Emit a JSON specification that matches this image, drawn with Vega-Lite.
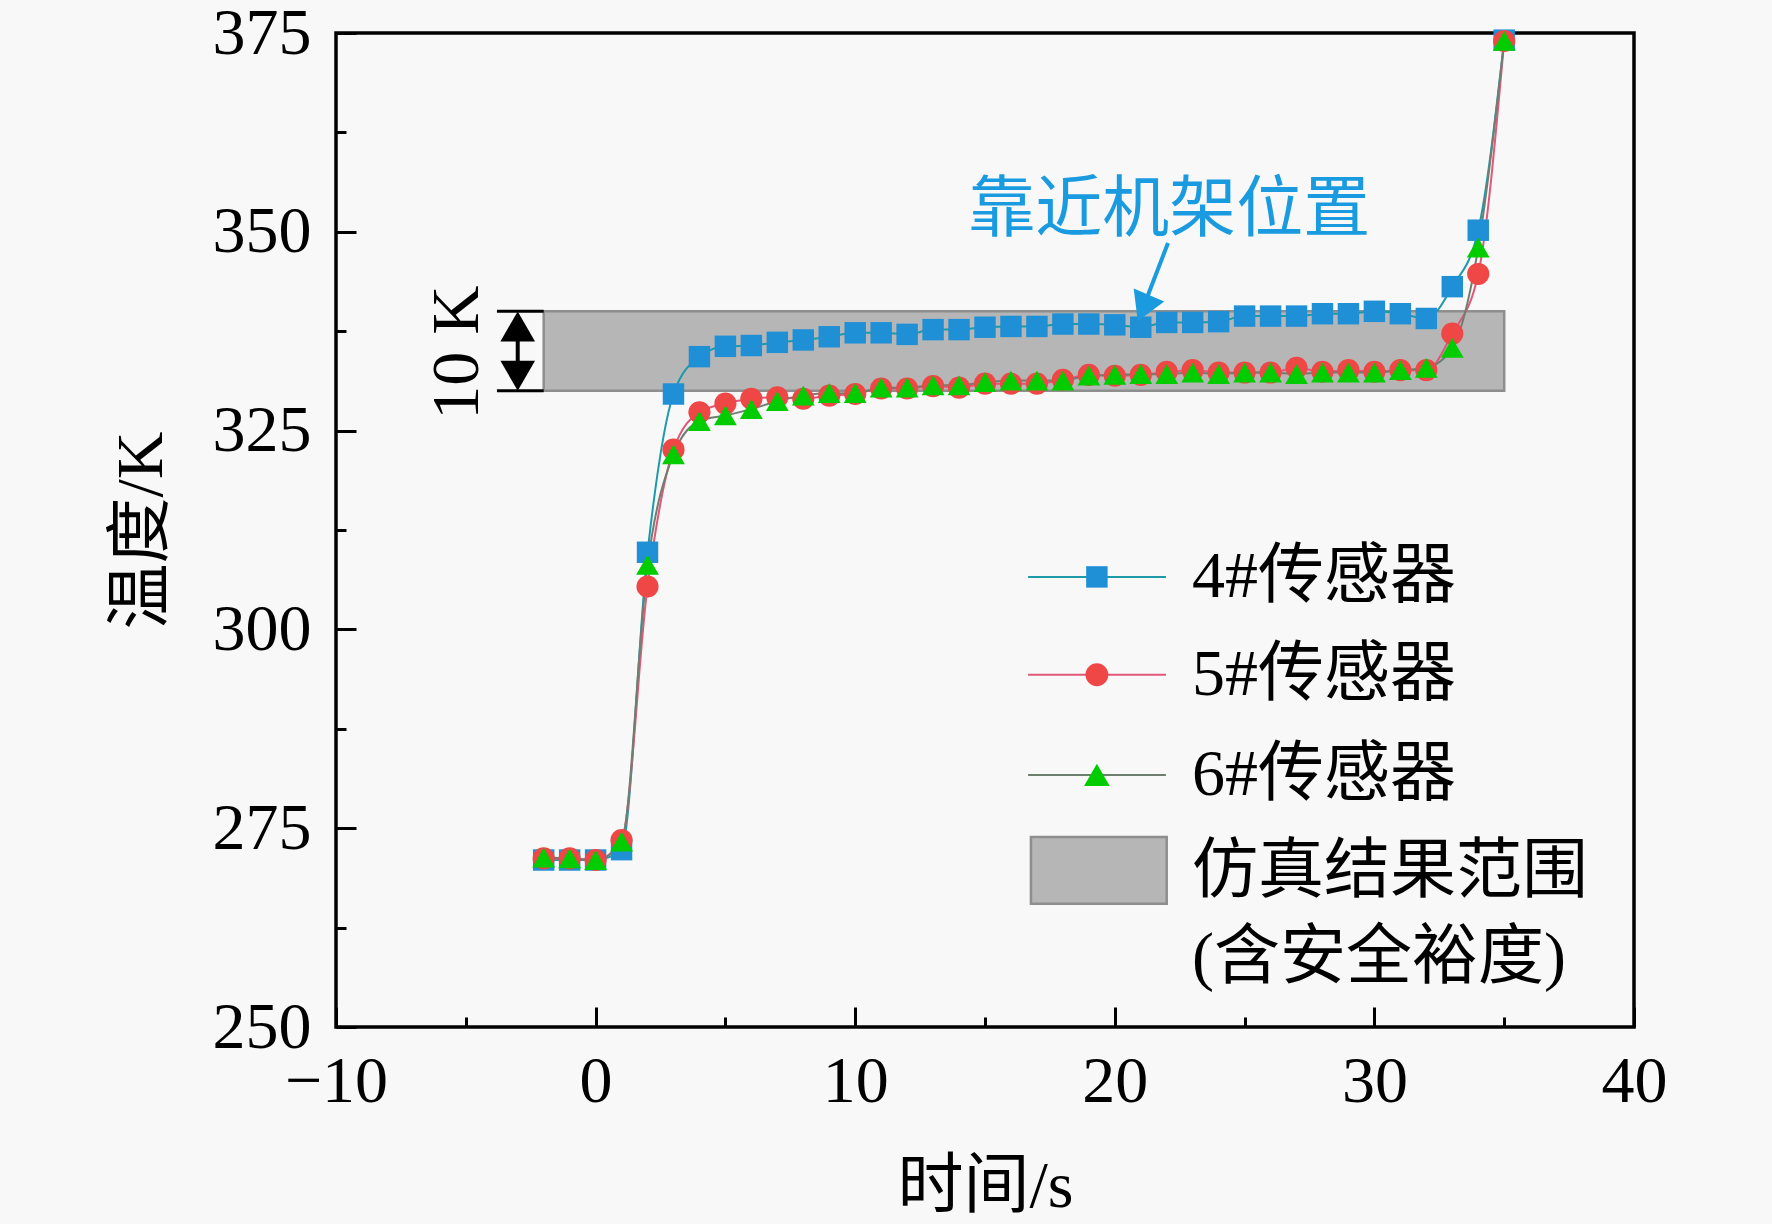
{
  "$schema": "https://vega.github.io/schema/vega-lite/v6.json",
  "width": 1298,
  "height": 994,
  "autosize": {"type": "none"},
  "padding": {"left": 336, "top": 33, "right": 138, "bottom": 197},
  "background": "#f8f8f8",
  "config": {
    "view": {"stroke": "#000000", "strokeWidth": 3.5},
    "font": "Liberation Serif",
    "axis": {
      "domain": false,
      "grid": false,
      "tickColor": "#000000",
      "tickWidth": 3,
      "labelColor": "#000000",
      "labelFont": "Liberation Serif",
      "labelFontSize": 66,
      "labelFlush": false,
      "labelOverlap": false,
      "titleColor": "#000000",
      "titleFont": "Liberation Serif, Noto Sans CJK SC",
      "titleFontSize": 66,
      "titleFontWeight": "normal"
    }
  },
  "datasets": {
    "sensors": [
      {"t": -2, "T": 271.0, "s": "4#传感器"}, {"t": -1, "T": 271.0, "s": "4#传感器"}, {"t": 0, "T": 271.0, "s": "4#传感器"},
      {"t": 1, "T": 272.3, "s": "4#传感器"}, {"t": 2, "T": 309.7, "s": "4#传感器"}, {"t": 3, "T": 329.6, "s": "4#传感器"},
      {"t": 4, "T": 334.3, "s": "4#传感器"}, {"t": 5, "T": 335.6, "s": "4#传感器"}, {"t": 6, "T": 335.7, "s": "4#传感器"},
      {"t": 7, "T": 336.1, "s": "4#传感器"}, {"t": 8, "T": 336.4, "s": "4#传感器"}, {"t": 9, "T": 336.8, "s": "4#传感器"},
      {"t": 10, "T": 337.3, "s": "4#传感器"}, {"t": 11, "T": 337.3, "s": "4#传感器"}, {"t": 12, "T": 337.1, "s": "4#传感器"},
      {"t": 13, "T": 337.7, "s": "4#传感器"}, {"t": 14, "T": 337.7, "s": "4#传感器"}, {"t": 15, "T": 338.0, "s": "4#传感器"},
      {"t": 16, "T": 338.1, "s": "4#传感器"}, {"t": 17, "T": 338.1, "s": "4#传感器"}, {"t": 18, "T": 338.4, "s": "4#传感器"},
      {"t": 19, "T": 338.4, "s": "4#传感器"}, {"t": 20, "T": 338.3, "s": "4#传感器"}, {"t": 21, "T": 338.0, "s": "4#传感器"},
      {"t": 22, "T": 338.6, "s": "4#传感器"}, {"t": 23, "T": 338.6, "s": "4#传感器"}, {"t": 24, "T": 338.7, "s": "4#传感器"},
      {"t": 25, "T": 339.4, "s": "4#传感器"}, {"t": 26, "T": 339.4, "s": "4#传感器"}, {"t": 27, "T": 339.4, "s": "4#传感器"},
      {"t": 28, "T": 339.7, "s": "4#传感器"}, {"t": 29, "T": 339.7, "s": "4#传感器"}, {"t": 30, "T": 340.0, "s": "4#传感器"},
      {"t": 31, "T": 339.7, "s": "4#传感器"}, {"t": 32, "T": 339.1, "s": "4#传感器"}, {"t": 33, "T": 343.1, "s": "4#传感器"},
      {"t": 34, "T": 350.2, "s": "4#传感器"}, {"t": 35, "T": 374.1, "s": "4#传感器"},

      {"t": -2, "T": 271.2, "s": "5#传感器"}, {"t": -1, "T": 271.2, "s": "5#传感器"}, {"t": 0, "T": 271.0, "s": "5#传感器"},
      {"t": 1, "T": 273.5, "s": "5#传感器"}, {"t": 2, "T": 305.4, "s": "5#传感器"}, {"t": 3, "T": 322.6, "s": "5#传感器"},
      {"t": 4, "T": 327.3, "s": "5#传感器"}, {"t": 5, "T": 328.4, "s": "5#传感器"}, {"t": 6, "T": 329.0, "s": "5#传感器"},
      {"t": 7, "T": 329.2, "s": "5#传感器"}, {"t": 8, "T": 329.0, "s": "5#传感器"}, {"t": 9, "T": 329.4, "s": "5#传感器"},
      {"t": 10, "T": 329.6, "s": "5#传感器"}, {"t": 11, "T": 330.3, "s": "5#传感器"}, {"t": 12, "T": 330.3, "s": "5#传感器"},
      {"t": 13, "T": 330.6, "s": "5#传感器"}, {"t": 14, "T": 330.4, "s": "5#传感器"}, {"t": 15, "T": 330.9, "s": "5#传感器"},
      {"t": 16, "T": 330.9, "s": "5#传感器"}, {"t": 17, "T": 330.9, "s": "5#传感器"}, {"t": 18, "T": 331.4, "s": "5#传感器"},
      {"t": 19, "T": 332.0, "s": "5#传感器"}, {"t": 20, "T": 331.9, "s": "5#传感器"}, {"t": 21, "T": 332.0, "s": "5#传感器"},
      {"t": 22, "T": 332.4, "s": "5#传感器"}, {"t": 23, "T": 332.6, "s": "5#传感器"}, {"t": 24, "T": 332.3, "s": "5#传感器"},
      {"t": 25, "T": 332.3, "s": "5#传感器"}, {"t": 26, "T": 332.3, "s": "5#传感器"}, {"t": 27, "T": 332.9, "s": "5#传感器"},
      {"t": 28, "T": 332.4, "s": "5#传感器"}, {"t": 29, "T": 332.6, "s": "5#传感器"}, {"t": 30, "T": 332.4, "s": "5#传感器"},
      {"t": 31, "T": 332.6, "s": "5#传感器"}, {"t": 32, "T": 332.6, "s": "5#传感器"}, {"t": 33, "T": 337.2, "s": "5#传感器"},
      {"t": 34, "T": 344.7, "s": "5#传感器"}, {"t": 35, "T": 374.0, "s": "5#传感器"},

      {"t": -2, "T": 271.3, "s": "6#传感器"}, {"t": -1, "T": 271.2, "s": "6#传感器"}, {"t": 0, "T": 271.0, "s": "6#传感器"},
      {"t": 1, "T": 273.3, "s": "6#传感器"}, {"t": 2, "T": 308.1, "s": "6#传感器"}, {"t": 3, "T": 322.0, "s": "6#传感器"},
      {"t": 4, "T": 326.2, "s": "6#传感器"}, {"t": 5, "T": 326.9, "s": "6#传感器"}, {"t": 6, "T": 327.7, "s": "6#传感器"},
      {"t": 7, "T": 328.7, "s": "6#传感器"}, {"t": 8, "T": 329.4, "s": "6#传感器"}, {"t": 9, "T": 329.7, "s": "6#传感器"},
      {"t": 10, "T": 329.7, "s": "6#传感器"}, {"t": 11, "T": 330.4, "s": "6#传感器"}, {"t": 12, "T": 330.4, "s": "6#传感器"},
      {"t": 13, "T": 330.7, "s": "6#传感器"}, {"t": 14, "T": 330.7, "s": "6#传感器"}, {"t": 15, "T": 331.1, "s": "6#传感器"},
      {"t": 16, "T": 331.3, "s": "6#传感器"}, {"t": 17, "T": 331.3, "s": "6#传感器"}, {"t": 18, "T": 331.3, "s": "6#传感器"},
      {"t": 19, "T": 331.9, "s": "6#传感器"}, {"t": 20, "T": 332.0, "s": "6#传感器"}, {"t": 21, "T": 332.1, "s": "6#传感器"},
      {"t": 22, "T": 332.1, "s": "6#传感器"}, {"t": 23, "T": 332.3, "s": "6#传感器"}, {"t": 24, "T": 332.1, "s": "6#传感器"},
      {"t": 25, "T": 332.3, "s": "6#传感器"}, {"t": 26, "T": 332.3, "s": "6#传感器"}, {"t": 27, "T": 332.1, "s": "6#传感器"},
      {"t": 28, "T": 332.3, "s": "6#传感器"}, {"t": 29, "T": 332.3, "s": "6#传感器"}, {"t": 30, "T": 332.3, "s": "6#传感器"},
      {"t": 31, "T": 332.6, "s": "6#传感器"}, {"t": 32, "T": 332.9, "s": "6#传感器"}, {"t": 33, "T": 335.4, "s": "6#传感器"},
      {"t": 34, "T": 348.0, "s": "6#传感器"}, {"t": 35, "T": 374.0, "s": "6#传感器"}
    ],
    "band": [{"start": -2, "end": 35, "low": 330, "high": 340}],
    "one": [{}]
  },
  "layer": [
    {
      "data": {"name": "band"},
      "mark": {"type": "rect", "fill": "#b6b6b6", "stroke": "#8e8e8e", "strokeWidth": 2.5},
      "encoding": {
        "x": {
          "field": "start", "type": "quantitative",
          "scale": {"domain": [-10, 40], "nice": false, "zero": false},
          "axis": {
            "title": "时间/s",
            "values": [-10, -5, 0, 5, 10, 15, 20, 25, 30, 35, 40],
            "labelExpr": "datum.value % 10 === 0 ? datum.label : ''",
            "tickSize": {"condition": {"test": "datum.value % 10 === 0", "value": -20}, "value": -10},
            "labelPadding": 42,
            "titlePadding": 30
          }
        },
        "x2": {"field": "end"},
        "y": {
          "field": "low", "type": "quantitative",
          "scale": {"domain": [250, 375], "nice": false, "zero": false},
          "axis": {
            "title": "温度/K",
            "values": [250, 262.5, 275, 287.5, 300, 312.5, 325, 337.5, 350, 362.5, 375],
            "labelExpr": "datum.value % 25 === 0 ? datum.label : ''",
            "tickSize": {"condition": {"test": "datum.value % 25 === 0", "value": -20}, "value": -10},
            "labelPadding": 45,
            "titlePadding": 37
          }
        },
        "y2": {"field": "high"}
      }
    },
    {
      "data": {"name": "sensors"},
      "mark": {"type": "line", "interpolate": "monotone", "strokeWidth": 2},
      "encoding": {
        "x": {"field": "t", "type": "quantitative"},
        "y": {"field": "T", "type": "quantitative"},
        "stroke": {
          "field": "s", "type": "nominal",
          "scale": {"domain": ["4#传感器", "5#传感器", "6#传感器"], "range": ["#1c9aa8", "#e0577a", "#6f7f6f"]},
          "legend": null
        }
      }
    },
    {
      "data": {"name": "sensors"},
      "mark": {"type": "point", "filled": true, "opacity": 1},
      "encoding": {
        "x": {"field": "t", "type": "quantitative"},
        "y": {"field": "T", "type": "quantitative"},
        "fill": {
          "field": "s", "type": "nominal",
          "scale": {"domain": ["4#传感器", "5#传感器", "6#传感器"], "range": ["#1f8fd6", "#ef4646", "#00cc00"]},
          "legend": null
        },
        "shape": {
          "field": "s", "type": "nominal",
          "scale": {"domain": ["4#传感器", "5#传感器", "6#传感器"], "range": ["square", "circle", "triangle-up"]},
          "legend": null
        },
        "size": {
          "field": "s", "type": "ordinal",
          "scale": {"domain": ["4#传感器", "5#传感器", "6#传感器"], "range": [460, 520, 660]},
          "legend": null
        }
      }
    },
    {
      "data": {"name": "one"},
      "mark": {"type": "text", "text": "靠近机架位置", "font": "Noto Sans CJK SC", "fontSize": 67, "color": "#1a9be0", "align": "center", "baseline": "middle"},
      "encoding": {"x": {"datum": 22.1}, "y": {"datum": 352.6}}
    },
    {
      "data": {"name": "one"},
      "mark": {"type": "rule", "color": "#1a9be0", "strokeWidth": 4},
      "encoding": {"x": {"datum": 22.05}, "y": {"datum": 348.6}, "x2": {"datum": 21.25}, "y2": {"datum": 341.8}}
    },
    {
      "data": {"name": "one"},
      "mark": {"type": "point", "shape": "triangle-down", "filled": true, "opacity": 1, "color": "#1a9be0", "size": 1100, "angle": 23},
      "encoding": {"x": {"datum": 21.1}, "y": {"datum": 340.4}}
    },
    {
      "data": {"name": "one"},
      "mark": {"type": "rule", "color": "#000000", "strokeWidth": 3},
      "encoding": {"x": {"datum": -3.8}, "x2": {"datum": -2}, "y": {"datum": 340}}
    },
    {
      "data": {"name": "one"},
      "mark": {"type": "rule", "color": "#000000", "strokeWidth": 3},
      "encoding": {"x": {"datum": -3.8}, "x2": {"datum": -2}, "y": {"datum": 330}}
    },
    {
      "data": {"name": "one"},
      "mark": {"type": "rule", "color": "#000000", "strokeWidth": 4},
      "encoding": {"x": {"datum": -3.0}, "y": {"datum": 338}, "y2": {"datum": 332}}
    },
    {
      "data": {"name": "one"},
      "mark": {"type": "point", "shape": "triangle-up", "filled": true, "opacity": 1, "color": "#000000", "size": 1200},
      "encoding": {"x": {"datum": -3.0}, "y": {"datum": 338.1}}
    },
    {
      "data": {"name": "one"},
      "mark": {"type": "point", "shape": "triangle-down", "filled": true, "opacity": 1, "color": "#000000", "size": 1200},
      "encoding": {"x": {"datum": -3.0}, "y": {"datum": 331.9}}
    },
    {
      "data": {"name": "one"},
      "mark": {"type": "text", "text": "10 K", "font": "Liberation Serif", "fontSize": 68, "color": "#000000", "angle": 270, "align": "center", "baseline": "middle"},
      "encoding": {"x": {"datum": -5.3}, "y": {"datum": 334.8}}
    },
    {
      "data": {"name": "one"},
      "mark": {"type": "rule", "color": "#1c9aa8", "strokeWidth": 2},
      "encoding": {"x": {"datum": 16.66}, "x2": {"datum": 21.97}, "y": {"datum": 306.6}}
    },
    {
      "data": {"name": "one"},
      "mark": {"type": "point", "shape": "square", "filled": true, "opacity": 1, "color": "#1f8fd6", "size": 460},
      "encoding": {"x": {"datum": 19.31}, "y": {"datum": 306.6}}
    },
    {
      "data": {"name": "one"},
      "mark": {"type": "text", "text": "4#传感器", "font": "Liberation Serif, Noto Sans CJK SC", "fontSize": 66, "color": "#000000", "align": "left", "baseline": "middle"},
      "encoding": {"x": {"datum": 22.97}, "y": {"datum": 306.6}}
    },
    {
      "data": {"name": "one"},
      "mark": {"type": "rule", "color": "#e0577a", "strokeWidth": 2},
      "encoding": {"x": {"datum": 16.66}, "x2": {"datum": 21.97}, "y": {"datum": 294.3}}
    },
    {
      "data": {"name": "one"},
      "mark": {"type": "point", "shape": "circle", "filled": true, "opacity": 1, "color": "#ef4646", "size": 520},
      "encoding": {"x": {"datum": 19.31}, "y": {"datum": 294.3}}
    },
    {
      "data": {"name": "one"},
      "mark": {"type": "text", "text": "5#传感器", "font": "Liberation Serif, Noto Sans CJK SC", "fontSize": 66, "color": "#000000", "align": "left", "baseline": "middle"},
      "encoding": {"x": {"datum": 22.97}, "y": {"datum": 294.3}}
    },
    {
      "data": {"name": "one"},
      "mark": {"type": "rule", "color": "#6f7f6f", "strokeWidth": 2},
      "encoding": {"x": {"datum": 16.66}, "x2": {"datum": 21.97}, "y": {"datum": 281.7}}
    },
    {
      "data": {"name": "one"},
      "mark": {"type": "point", "shape": "triangle-up", "filled": true, "opacity": 1, "color": "#00cc00", "size": 660},
      "encoding": {"x": {"datum": 19.31}, "y": {"datum": 281.7}}
    },
    {
      "data": {"name": "one"},
      "mark": {"type": "text", "text": "6#传感器", "font": "Liberation Serif, Noto Sans CJK SC", "fontSize": 66, "color": "#000000", "align": "left", "baseline": "middle"},
      "encoding": {"x": {"datum": 22.97}, "y": {"datum": 281.7}}
    },
    {
      "data": {"name": "one"},
      "mark": {"type": "rect", "fill": "#b6b6b6", "stroke": "#8e8e8e", "strokeWidth": 2.5},
      "encoding": {"x": {"datum": 16.77}, "x2": {"datum": 22.0}, "y": {"datum": 273.9}, "y2": {"datum": 265.5}}
    },
    {
      "data": {"name": "one"},
      "mark": {"type": "text", "text": "仿真结果范围", "font": "Liberation Serif, Noto Sans CJK SC", "fontSize": 66, "color": "#000000", "align": "left", "baseline": "middle"},
      "encoding": {"x": {"datum": 22.97}, "y": {"datum": 269.5}}
    },
    {
      "data": {"name": "one"},
      "mark": {"type": "text", "text": "(含安全裕度)", "font": "Liberation Serif, Noto Sans CJK SC", "fontSize": 66, "color": "#000000", "align": "left", "baseline": "middle"},
      "encoding": {"x": {"datum": 22.97}, "y": {"datum": 258.7}}
    }
  ]
}
